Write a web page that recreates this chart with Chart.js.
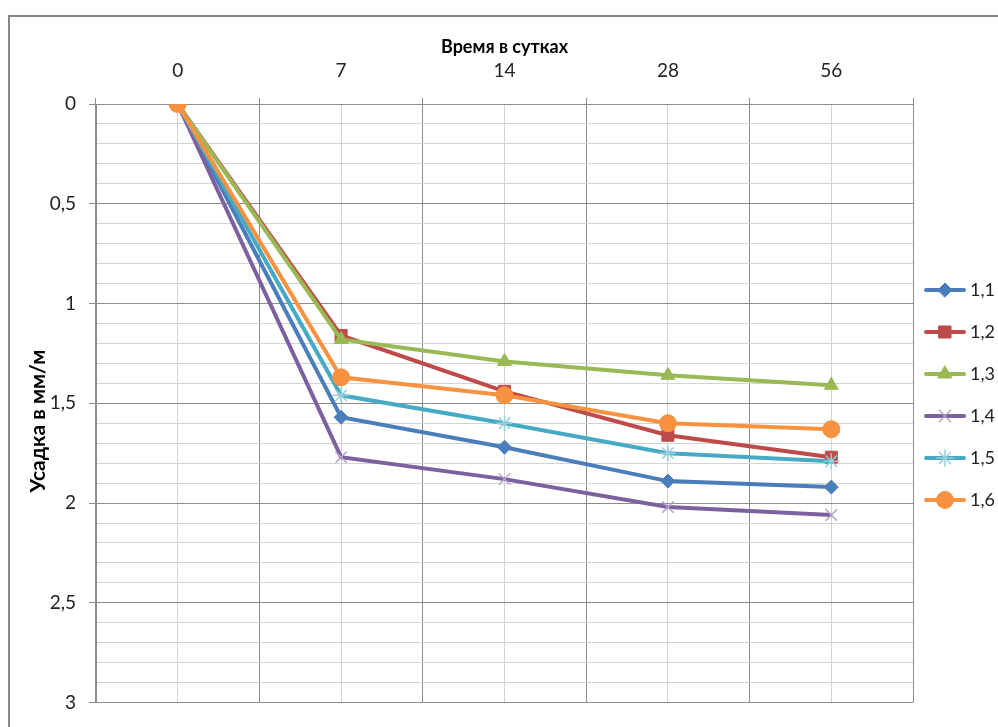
<!DOCTYPE html>
<html lang="ru">
<head>
<meta charset="utf-8">
<title>Усадка</title>
<script src="https://cdn.jsdelivr.net/npm/chart.js@4.4.1/dist/chart.umd.min.js"></script>
<style>
  html, body { margin: 0; padding: 0; background: #fff; }
  #wrap { width: 998px; height: 727px; }
</style>
</head>
<body>
<div id="wrap"><canvas id="c" width="998" height="727"></canvas></div>
<script>
// Время выдерживания, сутки
const days = ['0', '7', '14', '28', '56'];

// Усадка, мм/м
const s11 = [0, 1.57, 1.72, 1.89, 1.92];
const s12 = [0, 1.16, 1.44, 1.66, 1.77];
const s13 = [0, 1.18, 1.29, 1.36, 1.41];
const s14 = [0, 1.77, 1.88, 2.02, 2.06];
const s15 = [0, 1.46, 1.60, 1.75, 1.79];
const s16 = [0, 1.37, 1.46, 1.60, 1.63];

const seriesNames = ['1,1', '1,2', '1,3', '1,4', '1,5', '1,6'];
const seriesData = [s11, s12, s13, s14, s15, s16];

const lineColors = ['#4A7EBB', '#BE4B48', '#98B954', '#7D60A0', '#46AAC5', '#F69240'];
const markerStyle = [
  { pointStyle: 'rectRot',  radius: 7,   fill: '#4A7EBB', stroke: '#4A7EBB', bw: 1 },
  { pointStyle: 'rect',     radius: 8.5, fill: '#BE4B48', stroke: '#BE4B48', bw: 1 },
  { pointStyle: 'triangle', radius: 8,   fill: '#98B954', stroke: '#98B954', bw: 1 },
  { pointStyle: 'crossRot', radius: 8,   fill: '#B3A2C7', stroke: '#B3A2C7', bw: 1.5 },
  { pointStyle: 'star',     radius: 8,   fill: '#93CDDD', stroke: '#93CDDD', bw: 1.5 },
  { pointStyle: 'circle',   radius: 8.5, fill: '#F69240', stroke: '#F69240', bw: 1 }
];

const FONT = 'Lato, "Open Sans", sans-serif';
const MAJOR = '#8C8C8C';
const MINOR = '#D3D3D3';

// legend symbol: short line segment with the series marker in the middle
function legendSymbol(i) {
  const c = document.createElement('canvas');
  c.width = 50; c.height = 22;
  const g = c.getContext('2d');
  g.strokeStyle = lineColors[i];
  g.lineWidth = 4;
  g.lineCap = 'round';
  g.beginPath(); g.moveTo(2, 11); g.lineTo(40, 11); g.stroke();
  const m = markerStyle[i];
  g.fillStyle = m.fill;
  g.strokeStyle = m.stroke;
  g.lineWidth = m.bw;
  Chart.helpers.drawPoint(g, { pointStyle: m.pointStyle, radius: m.radius, rotation: 0, borderWidth: m.bw }, 21, 11);
  return c;
}

const datasets = seriesData.map((d, i) => ({
  label: seriesNames[i],
  data: d,
  borderColor: lineColors[i],
  backgroundColor: markerStyle[i].fill,
  borderWidth: 4,
  pointStyle: markerStyle[i].pointStyle,
  pointRadius: markerStyle[i].radius,
  pointHoverRadius: markerStyle[i].radius,
  pointBackgroundColor: markerStyle[i].fill,
  pointBorderColor: markerStyle[i].stroke,
  pointBorderWidth: markerStyle[i].bw,
  tension: 0,
  order: seriesData.length - 1 - i,
  xAxisID: 'x',
  yAxisID: 'y'
}));

const isMajor = v => Math.round(v * 10) % 5 === 0;

// outer frame of the chart
const framePlugin = {
  id: 'frame',
  beforeDraw(chart) {
    const g = chart.ctx;
    g.save();
    g.fillStyle = '#fff';
    g.fillRect(0, 0, chart.width, chart.height);
    g.strokeStyle = '#888';
    g.lineWidth = 2;
    g.strokeRect(9, 16, 2000, 2000);
    g.restore();
  }
};

new Chart(document.getElementById('c'), {
  type: 'line',
  data: { labels: days, datasets },
  plugins: [framePlugin],
  options: {
    responsive: false,
    animation: false,
    layout: { padding: { top: 36.2, left: 0, right: 0, bottom: 24 } },
    plugins: {
      tooltip: { enabled: false },
      legend: {
        position: 'right',
        align: 'center',
        maxWidth: 85,
        title: { display: true, text: ' ', padding: 18.2, font: { size: 12 } },
        labels: {
          usePointStyle: true,
          pointStyleWidth: 24,
          padding: 24,
          color: '#222',
          font: { family: FONT, size: 18 },
          sort: (a, b) => a.datasetIndex - b.datasetIndex,
          generateLabels(chart) {
            return chart.data.datasets.map((ds, i) => ({
              text: ds.label,
              datasetIndex: i,
              pointStyle: legendSymbol(i),
              fillStyle: 'transparent',
              strokeStyle: 'transparent',
              lineWidth: 0,
              fontColor: '#222',
              hidden: false
            }));
          }
        }
      }
    },
    scales: {
      x: {
        type: 'category',
        position: 'top',
        offset: true,
        grid: { offset: true, color: MAJOR, tickColor: MAJOR, tickLength: 6, lineWidth: 1 },
        border: { display: true, color: MAJOR },
        ticks: { color: '#222', font: { family: FONT, size: 19 }, padding: 15.6, maxRotation: 0 },
        title: {
          display: true,
          text: 'Время в сутках',
          color: '#000',
          font: { family: FONT, size: 18, weight: 'bold' },
          padding: { top: 0, bottom: -13.8 }
        }
      },
      x2: {
        type: 'category',
        position: 'bottom',
        offset: true,
        grid: { offset: false, color: MINOR, drawTicks: false, lineWidth: 1 },
        border: { display: false },
        ticks: { display: false }
      },
      y: {
        type: 'linear',
        reverse: true,
        min: 0,
        max: 3,
        afterFit(scale) { scale.width = 96; },
        grid: {
          color: c => isMajor(c.tick.value) ? MAJOR : MINOR,
          tickColor: c => isMajor(c.tick.value) ? MAJOR : 'rgba(0,0,0,0)',
          tickLength: 7,
          lineWidth: 1
        },
        border: { display: true, color: MAJOR },
        ticks: {
          stepSize: 0.1,
          autoSkip: false,
          padding: 13,
          color: '#222',
          font: { family: FONT, size: 19 },
          callback: v => isMajor(v) ? String(Math.round(v * 10) / 10).replace('.', ',') : ''
        },
        title: {
          display: true,
          text: 'Усадка в мм/м       ',
          color: '#000',
          font: { family: FONT, size: 21, weight: 'bold' },
          padding: { top: 25.4, bottom: 0 }
        }
      }
    }
  }
});
</script>
</body>
</html>
